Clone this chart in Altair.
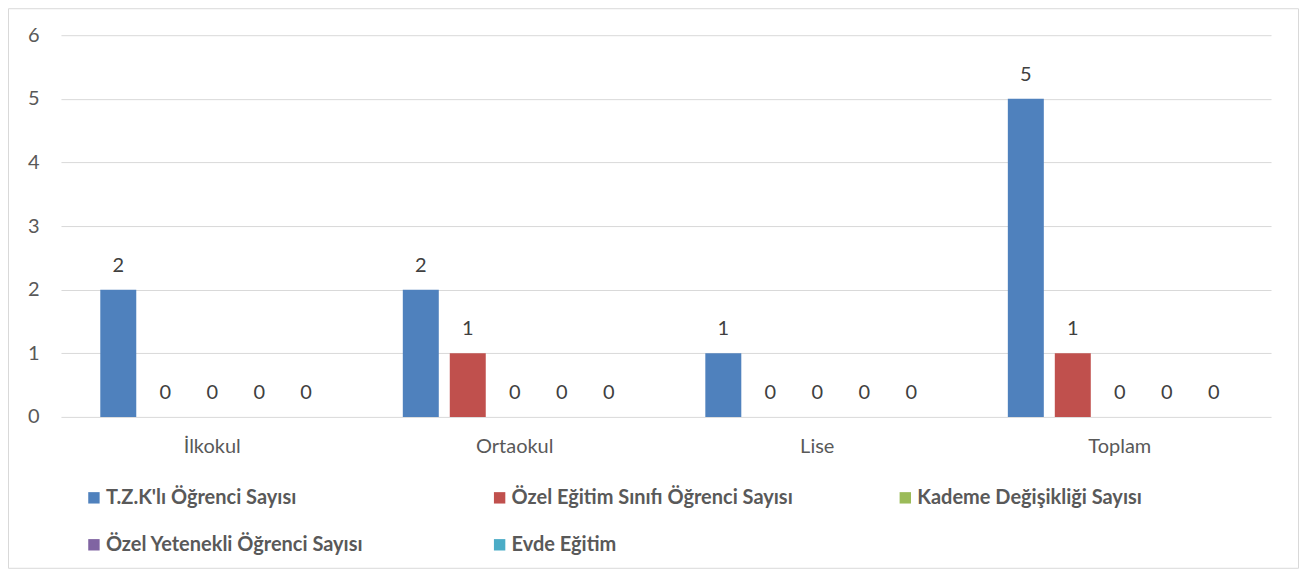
import altair as alt
import pandas as pd

categories = ["İlkokul", "Ortaokul", "Lise", "Toplam"]
series = [
    "T.Z.K'lı Öğrenci Sayısı",
    "Özel Eğitim Sınıfı Öğrenci Sayısı",
    "Kademe Değişikliği Sayısı",
    "Özel Yetenekli Öğrenci Sayısı",
    "Evde Eğitim",
]
tzk = [2, 2, 1, 5]
ozel_egitim = [0, 1, 0, 1]
kademe = [0, 0, 0, 0]
ozel_yetenekli = [0, 0, 0, 0]
evde = [0, 0, 0, 0]
colors = ["#4F81BD", "#C0504D", "#9BBB59", "#8064A2", "#4BACC6"]

values_by_series = [tzk, ozel_egitim, kademe, ozel_yetenekli, evde]
rows = []
for s, vals in zip(series, values_by_series):
    for c, v in zip(categories, vals):
        rows.append({"Kademe": c, "Seri": s, "Deger": v})
df = pd.DataFrame(rows)

FONT = "Lato"
W, H = 1211, 382

x_enc = alt.X(
    "Kademe:N",
    sort=categories,
    scale=alt.Scale(paddingInner=0.26, paddingOuter=0.13),
    axis=alt.Axis(
        title=None, labelAngle=0, domain=False, ticks=False, grid=False,
        labelFont=FONT, labelFontSize=20, labelColor="#595959", labelPadding=20,
    ),
)
xoff_enc = alt.XOffset(
    "Seri:N", sort=series,
    scale=alt.Scale(paddingInner=0.234, paddingOuter=0),
)
y_enc = alt.Y(
    "Deger:Q",
    scale=alt.Scale(domain=[0, 6], nice=False),
    axis=alt.Axis(
        title=None, values=[0, 1, 2, 3, 4, 5, 6], format="d",
        domain=False, ticks=False,
        gridColor="#d9d9d9", gridWidth=1,
        labelFont=FONT, labelFontSize=20, labelColor="#595959", labelPadding=22,
    ),
)

base = alt.Chart(df)

bars = base.mark_bar().encode(
    x=x_enc,
    xOffset=xoff_enc,
    y=y_enc,
    color=alt.Color(
        "Seri:N",
        sort=series,
        scale=alt.Scale(domain=series, range=colors),
        legend=alt.Legend(
            title=None, orient="none", legendX=23, legendY=453,
            direction="horizontal", gridAlign="all",
            columns=3, columnPadding=102, rowPadding=27,
            symbolType="square", symbolSize=130, symbolStrokeWidth=0,
            labelFont=FONT, labelFontSize=20, labelFontWeight="bold",
            labelColor="#595959", labelOffset=2, labelLimit=700,
        ),
    ),
)

labels = base.mark_text(
    font=FONT, fontSize=20, color="#404040", baseline="alphabetic", dy=-18
).encode(
    x=alt.X("Kademe:N", sort=categories),
    xOffset=alt.XOffset("Seri:N", sort=series),
    y=alt.Y("Deger:Q"),
    text=alt.Text("Deger:Q"),
)

border = alt.Chart(alt.Data(values=[{"k": 1}])).mark_rect(
    fill="transparent", stroke="#d9d9d9", strokeWidth=1
).encode(
    x=alt.value(-52.5), x2=alt.value(1238.5),
    y=alt.value(-26.5), y2=alt.value(533.5),
)

chart = alt.layer(border, bars, labels).properties(
    width=W, height=H,
    padding={"left": 53, "top": 27, "right": 29, "bottom": 153},
    autosize=alt.AutoSizeParams(type="none"),
).configure_view(strokeWidth=0)

chart.save("out.html", embed_options={"renderer": "svg", "actions": False})
